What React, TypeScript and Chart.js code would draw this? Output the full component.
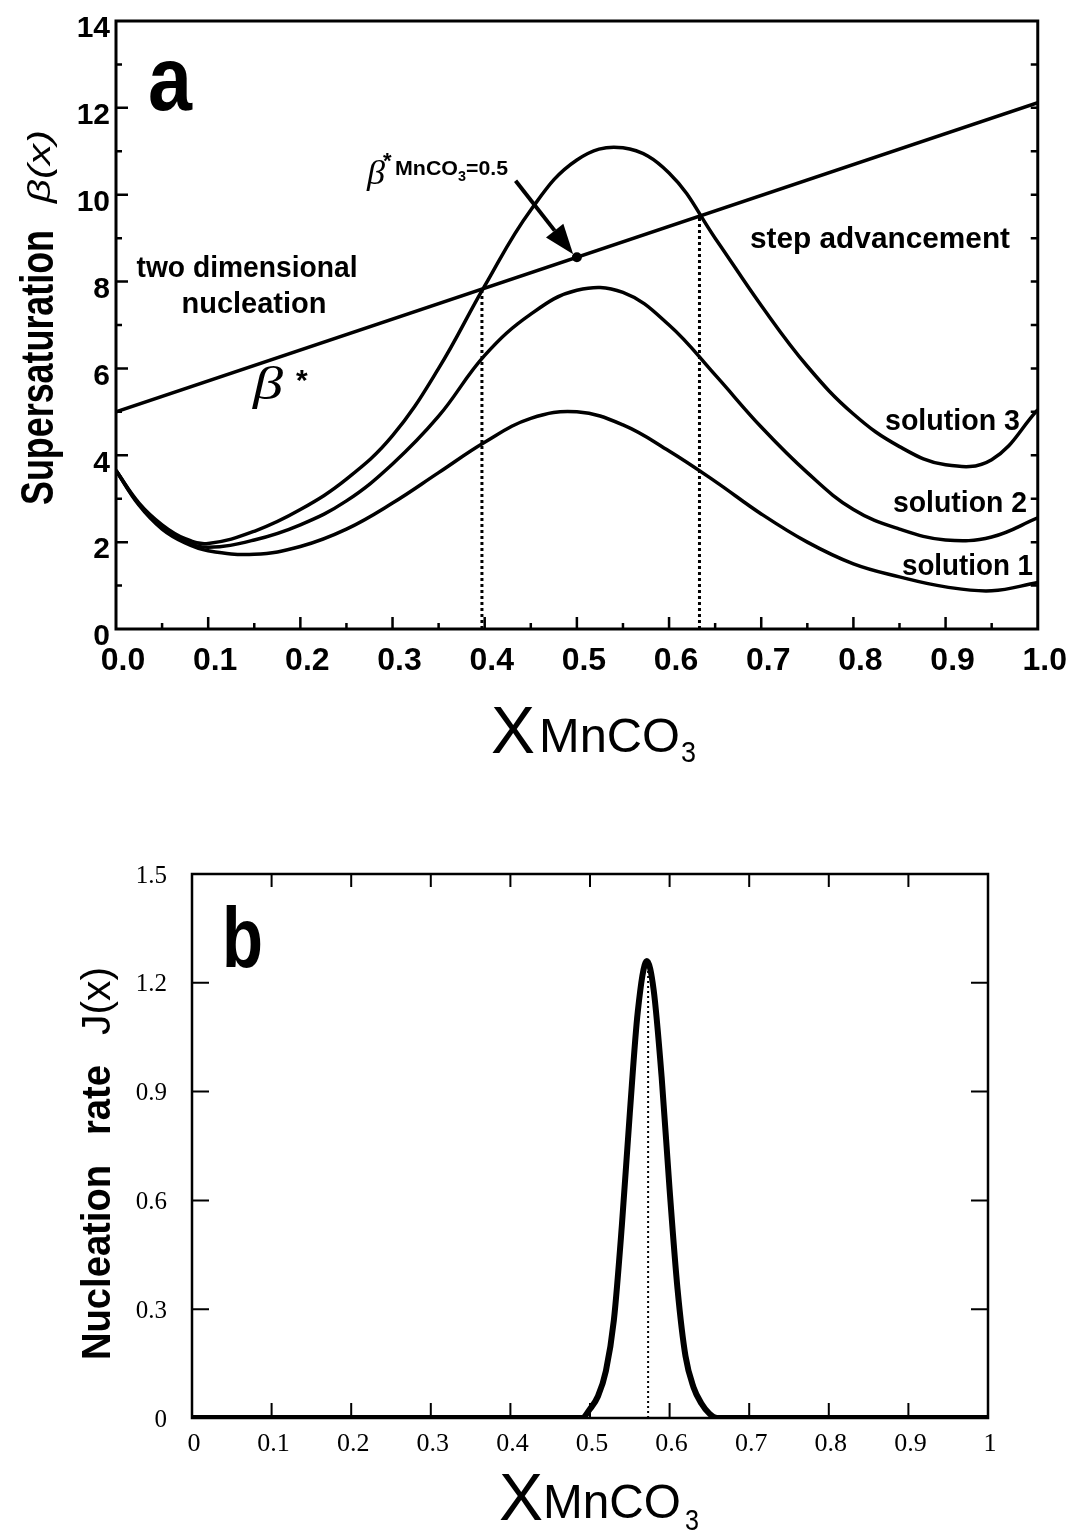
import React, { useEffect, useRef } from 'react';
import { Chart, registerables } from 'chart.js';

Chart.register(...registerables);

const SANS = '"Liberation Sans", Arial, sans-serif';
const SERIF = '"Liberation Serif", "Times New Roman", serif';

// ---------- Panel a data ----------
const xComposition = [0, 0.025, 0.05, 0.075, 0.1, 0.15, 0.2, 0.25, 0.3, 0.35, 0.4, 0.45, 0.5, 0.55, 0.6, 0.65, 0.7, 0.75, 0.8, 0.85, 0.9, 0.95, 1.0];
const solution1 = [3.65, 2.85, 2.3, 1.98, 1.8, 1.72, 1.9, 2.3, 2.9, 3.6, 4.3, 4.85, 5.0, 4.7, 4.1, 3.4, 2.65, 2.0, 1.5, 1.2, 0.97, 0.88, 1.07];
const solution2 = [3.65, 2.87, 2.35, 2.02, 1.88, 2.05, 2.4, 2.95, 3.8, 4.9, 6.3, 7.25, 7.8, 7.75, 7.0, 5.85, 4.65, 3.6, 2.75, 2.3, 2.05, 2.12, 2.56];
const solution3 = [3.65, 2.9, 2.4, 2.08, 1.97, 2.25, 2.75, 3.45, 4.45, 6.0, 7.9, 9.65, 10.8, 11.08, 10.5, 9.0, 7.45, 6.05, 4.95, 4.2, 3.78, 3.9, 5.05];
const betaStarX = [0, 1];
const betaStarY = [5.0, 12.12];
const crossingX = [0.397, 0.633];
const crossingY = [7.83, 9.51];
const markerX = [0.5];
const markerY = [8.56];
const arrowFrom = [0.4335, 10.32];
const arrowTo = [0.496, 8.63];
const xTicksA = ['0.0', '0.1', '0.2', '0.3', '0.4', '0.5', '0.6', '0.7', '0.8', '0.9', '1.0'];
const yTicksA = ['0', '2', '4', '6', '8', '10', '12', '14'];

// ---------- Panel b data ----------
const jX = [0, 0.1, 0.2, 0.3, 0.4, 0.49, 0.5, 0.51, 0.52, 0.53, 0.54, 0.55, 0.56, 0.5715, 0.58, 0.59, 0.6, 0.61, 0.62, 0.63, 0.64, 0.65, 0.66, 0.7, 0.8, 0.9, 1.0];
const jY = [0, 0, 0, 0, 0, 0, 0.025, 0.06, 0.13, 0.27, 0.53, 0.84, 1.12, 1.26, 1.18, 0.94, 0.63, 0.355, 0.17, 0.085, 0.04, 0.012, 0, 0, 0, 0, 0];
const jPeakX = [0.573, 0.573];
const jPeakY = [0, 1.25];
const xTicksB = ['0', '0.1', '0.2', '0.3', '0.4', '0.5', '0.6', '0.7', '0.8', '0.9', '1'];
const yTicksB = ['0', '0.3', '0.6', '0.9', '1.2', '1.5'];

type Align = 'left' | 'center' | 'right';

function drawText(ctx: CanvasRenderingContext2D, s: string, x: number, y: number, font: string, width?: number, align: Align = 'left', rotate = false) {
  ctx.save();
  ctx.font = font;
  ctx.fillStyle = '#000';
  ctx.textBaseline = 'alphabetic';
  ctx.textAlign = 'left';
  const m = ctx.measureText(s).width;
  const sx = width ? width / m : 1;
  ctx.translate(x, y);
  if (rotate) ctx.rotate(-Math.PI / 2);
  ctx.scale(sx, 1);
  const off = align === 'center' ? -m / 2 : align === 'right' ? -m : 0;
  ctx.fillText(s, off, 0);
  ctx.restore();
}

const pts = (xs: number[], ys: number[]) => xs.map((x, i) => ({ x, y: ys[i] }));

const decorA = {
  id: 'decorA',
  afterDatasetsDraw(chart: any) {
    const { ctx, chartArea: a, scales } = chart;
    const sx = scales.x;
    const sy = scales.y;
    ctx.save();
    ctx.strokeStyle = '#000';
    ctx.lineWidth = 3;
    ctx.strokeRect(a.left, a.top, a.right - a.left, a.bottom - a.top);
    ctx.lineWidth = 2.5;
    ctx.beginPath();
    for (let i = 1; i < 20; i++) {
      const p = sx.getPixelForValue(i / 20);
      const len = i % 2 === 0 ? 12 : 6;
      ctx.moveTo(p, a.bottom);
      ctx.lineTo(p, a.bottom - len);
    }
    for (let i = 1; i < 14; i++) {
      const p = sy.getPixelForValue(i);
      const len = i % 2 === 0 ? 12 : 6;
      ctx.moveTo(a.left, p);
      ctx.lineTo(a.left + len, p);
      ctx.moveTo(a.right, p);
      ctx.lineTo(a.right - 7, p);
    }
    ctx.stroke();

    // arrow
    const x0 = sx.getPixelForValue(arrowFrom[0]);
    const y0 = sy.getPixelForValue(arrowFrom[1]);
    const x1 = sx.getPixelForValue(arrowTo[0]);
    const y1 = sy.getPixelForValue(arrowTo[1]);
    const ang = Math.atan2(y1 - y0, x1 - x0);
    const hl = 30;
    const hw = 11;
    const bx = x1 - hl * Math.cos(ang);
    const by = y1 - hl * Math.sin(ang);
    ctx.lineWidth = 4;
    ctx.beginPath();
    ctx.moveTo(x0, y0);
    ctx.lineTo(bx, by);
    ctx.stroke();
    ctx.fillStyle = '#000';
    ctx.beginPath();
    ctx.moveTo(x1, y1);
    ctx.lineTo(bx + hw * Math.sin(ang), by - hw * Math.cos(ang));
    ctx.lineTo(bx - hw * Math.sin(ang), by + hw * Math.cos(ang));
    ctx.closePath();
    ctx.fill();
    ctx.restore();

    // texts
    drawText(ctx, 'a', 148, 110, `bold 90px ${SANS}`, 44);
    drawText(ctx, 'two dimensional', 247, 277, `bold 29px ${SANS}`, 221, 'center');
    drawText(ctx, 'nucleation', 254, 313, `bold 29px ${SANS}`, 145, 'center');
    drawText(ctx, 'β', 253, 399, `italic 46px ${SERIF}`, 30);
    drawText(ctx, '*', 296, 390, `bold 30px ${SANS}`);
    drawText(ctx, 'step advancement', 750, 248, `bold 29px ${SANS}`, 260);
    drawText(ctx, 'solution 3', 885, 430, `bold 29px ${SANS}`, 135);
    drawText(ctx, 'solution 2', 893, 512, `bold 29px ${SANS}`, 134);
    drawText(ctx, 'solution 1', 902, 575, `bold 29px ${SANS}`, 131);
    // annotation beta*
    drawText(ctx, 'β', 367, 184, `italic 34px ${SERIF}`, 18);
    drawText(ctx, '*', 383, 168, `bold 22px ${SANS}`);
    drawText(ctx, 'MnCO', 395, 175, `bold 20px ${SANS}`, 63);
    drawText(ctx, '3', 458, 181, `bold 14px ${SANS}`, 8);
    drawText(ctx, '=0.5', 466, 175, `bold 20px ${SANS}`, 42);
    // y title
    drawText(ctx, 'Supersaturation', 53, 505, `bold 46px ${SANS}`, 275, 'left', true);
    drawText(ctx, 'β(x)', 50, 203, `italic 31px ${SANS}`, 73, 'left', true);
    // x title
    drawText(ctx, 'X', 491, 753, `67px ${SANS}`, 44);
    drawText(ctx, 'MnCO', 539, 752, `49px ${SANS}`, 141);
    drawText(ctx, '3', 681, 762, `30px ${SANS}`, 15);
  },
};

const decorB = {
  id: 'decorB',
  afterDatasetsDraw(chart: any) {
    const { ctx, chartArea: a, scales } = chart;
    const sx = scales.x;
    const sy = scales.y;
    ctx.save();
    ctx.strokeStyle = '#000';
    ctx.lineWidth = 2.5;
    ctx.strokeRect(a.left, a.top, a.right - a.left, a.bottom - a.top);
    ctx.lineWidth = 2;
    ctx.beginPath();
    for (let i = 1; i < 10; i++) {
      const p = sx.getPixelForValue(i / 10);
      ctx.moveTo(p, a.bottom);
      ctx.lineTo(p, a.bottom - 15);
      ctx.moveTo(p, a.top);
      ctx.lineTo(p, a.top + 13);
    }
    for (let i = 1; i < 5; i++) {
      const p = sy.getPixelForValue(i * 0.3);
      ctx.moveTo(a.left, p);
      ctx.lineTo(a.left + 17, p);
      ctx.moveTo(a.right, p);
      ctx.lineTo(a.right - 17, p);
    }
    ctx.stroke();
    ctx.restore();

    drawText(ctx, 'b', 222, 177, `bold 86px ${SANS}`, 41);
    drawText(ctx, 'Nucleation', 110, 570, `bold 40px ${SANS}`, 195, 'left', true);
    drawText(ctx, 'rate', 110, 345, `bold 40px ${SANS}`, 70, 'left', true);
    drawText(ctx, 'J(x)', 110, 245, `40px ${SANS}`, 68, 'left', true);
    drawText(ctx, 'X', 499, 730, `66px ${SANS}`, 44);
    drawText(ctx, 'MnCO', 543, 728, `49px ${SANS}`, 138);
    drawText(ctx, '3', 685, 740, `30px ${SANS}`, 14);
  },
};

export default function App() {
  const refA = useRef<HTMLCanvasElement>(null);
  const refB = useRef<HTMLCanvasElement>(null);

  useEffect(() => {
    const line = (data: any[], width: number, extra: any = {}) => ({
      data,
      borderColor: '#000',
      backgroundColor: '#000',
      borderWidth: width,
      pointRadius: 0,
      fill: false,
      ...extra,
    });

    const chartA = new Chart(refA.current as HTMLCanvasElement, {
      type: 'line',
      data: {
        datasets: [
          line(pts(xComposition, solution1), 3.5, { tension: 0.4 }),
          line(pts(xComposition, solution2), 3.5, { tension: 0.4 }),
          line(pts(xComposition, solution3), 3.5, { tension: 0.4 }),
          line(pts(betaStarX, betaStarY), 3.5),
          line(pts([crossingX[0], crossingX[0]], [0, crossingY[0]]), 3, { borderDash: [3, 3] }),
          line(pts([crossingX[1], crossingX[1]], [0, crossingY[1]]), 3, { borderDash: [3, 3] }),
          line(pts(markerX, markerY), 0, { showLine: false, pointRadius: 5, pointBorderWidth: 0 }),
        ],
      },
      options: {
        animation: false,
        responsive: false,
        layout: { padding: { left: 0, right: 35, top: 15, bottom: 0 } },
        plugins: { legend: { display: false }, tooltip: { enabled: false } },
        scales: {
          x: {
            type: 'linear',
            min: 0,
            max: 1,
            grid: { display: false, drawTicks: false },
            border: { display: false },
            ticks: {
              stepSize: 0.1,
              autoSkip: false,
              maxRotation: 0,
              callback: (_v: any, i: number) => xTicksA[i],
              font: { family: SANS, size: 32, weight: 'bold', lineHeight: 1 },
              color: '#000',
              padding: 16,
              labelOffset: 7,
            },
            afterFit: (s: any) => { s.height = 161; },
          },
          y: {
            type: 'linear',
            min: 0,
            max: 14,
            grid: { display: false, drawTicks: false },
            border: { display: false },
            ticks: {
              stepSize: 2,
              autoSkip: false,
              callback: (_v: any, i: number) => yTicksA[i],
              font: { family: SANS, size: 30, weight: 'bold', lineHeight: 1 },
              color: '#000',
              padding: 6,
              labelOffset: 8,
            },
            afterFit: (s: any) => { s.width = 116; },
          },
        },
      } as any,
      plugins: [decorA],
    });

    const chartB = new Chart(refB.current as HTMLCanvasElement, {
      type: 'line',
      data: {
        datasets: [
          line(pts(jX, jY), 6, { cubicInterpolationMode: 'monotone' }),
          line(pts(jPeakX, jPeakY), 2, { borderDash: [2, 3] }),
        ],
      },
      options: {
        animation: false,
        responsive: false,
        layout: { padding: { left: 0, right: 88, top: 84, bottom: 0 } },
        plugins: { legend: { display: false }, tooltip: { enabled: false } },
        scales: {
          x: {
            type: 'linear',
            min: 0,
            max: 1,
            grid: { display: false, drawTicks: false },
            border: { display: false },
            ticks: {
              stepSize: 0.1,
              autoSkip: false,
              maxRotation: 0,
              callback: (_v: any, i: number) => xTicksB[i],
              font: { family: SERIF, size: 26, lineHeight: 1 },
              color: '#000',
              padding: 13,
              labelOffset: 2,
            },
            afterFit: (s: any) => { s.height = 113; },
          },
          y: {
            type: 'linear',
            min: 0,
            max: 1.5,
            grid: { display: false, drawTicks: false },
            border: { display: false },
            ticks: {
              stepSize: 0.3,
              autoSkip: false,
              callback: (_v: any, i: number) => yTicksB[i],
              font: { family: SERIF, size: 25, lineHeight: 1 },
              color: '#000',
              padding: 25,
              labelOffset: 2,
            },
            afterFit: (s: any) => { s.width = 192; },
          },
        },
      } as any,
      plugins: [decorB],
    });

    return () => {
      chartA.destroy();
      chartB.destroy();
    };
  }, []);

  return (
    <div style={{ position: 'absolute', left: 0, top: 0, width: 1076, height: 1531, background: '#fff', overflow: 'hidden' }}>
      <canvas ref={refA} width={1076} height={790} style={{ position: 'absolute', left: 0, top: 0, display: 'block' }} />
      <canvas ref={refB} width={1076} height={741} style={{ position: 'absolute', left: 0, top: 790, display: 'block' }} />
    </div>
  );
}
